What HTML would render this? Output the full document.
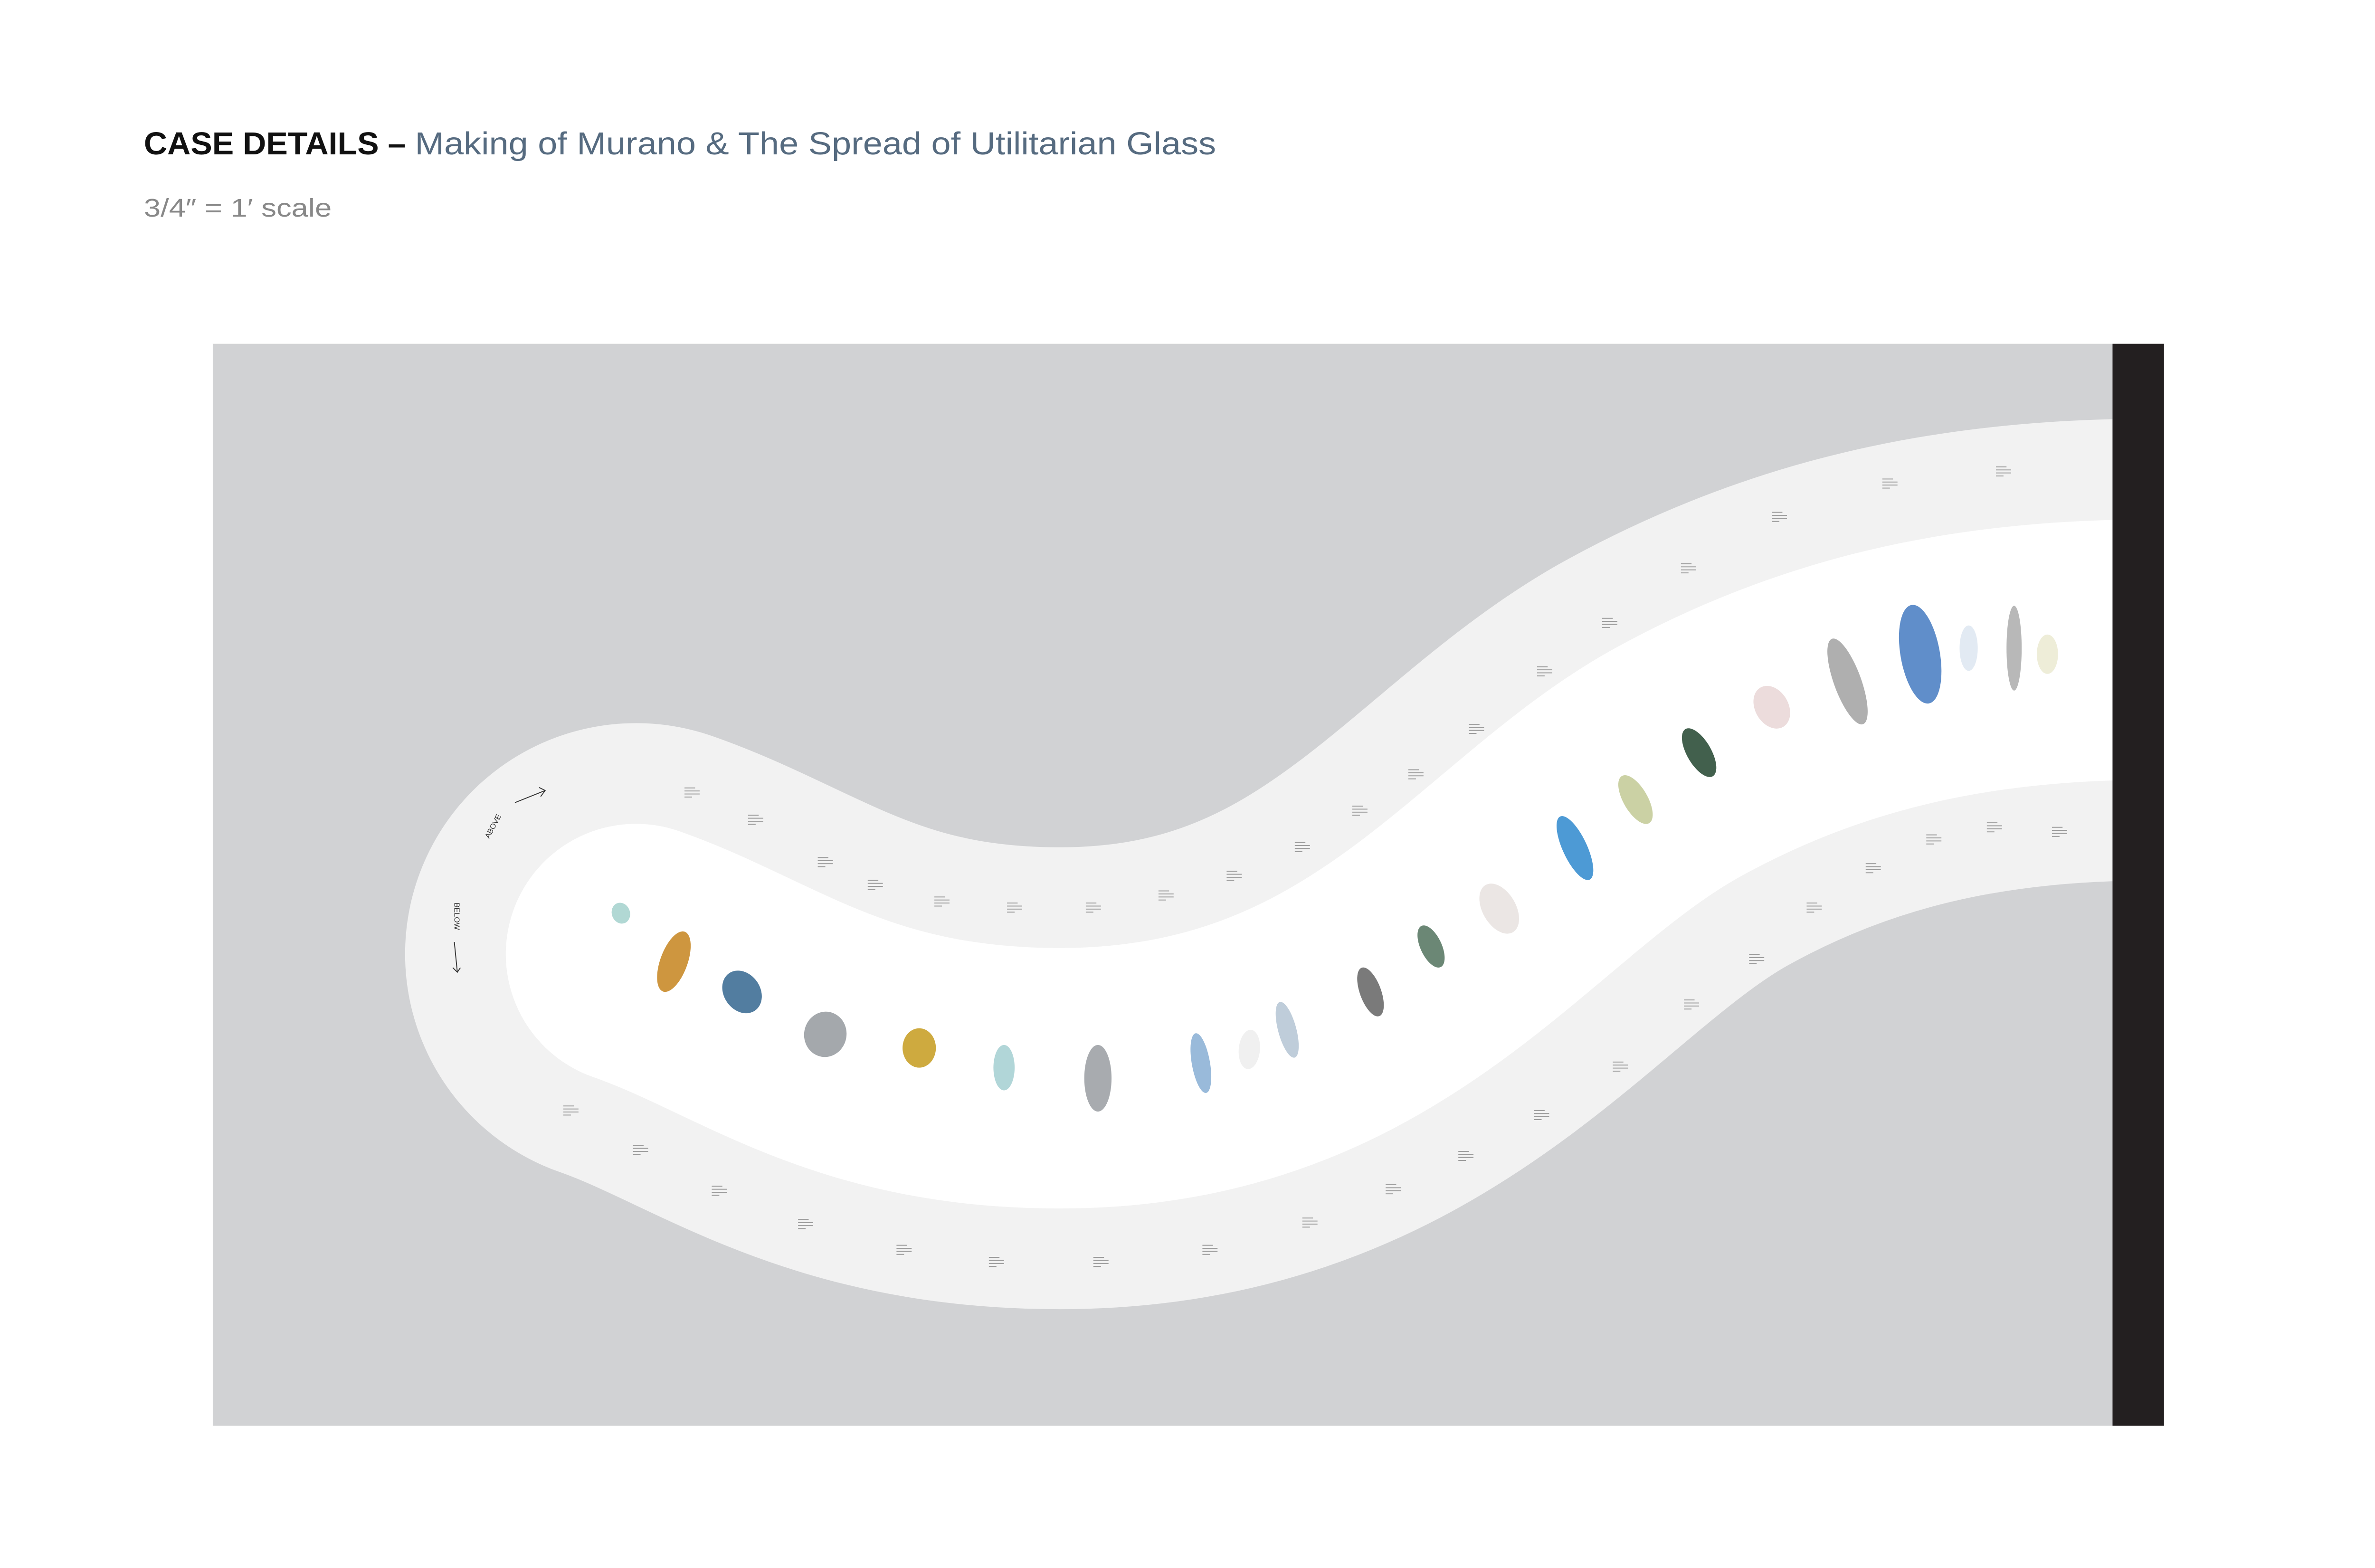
<!DOCTYPE html>
<html><head><meta charset="utf-8"><style>
html,body{margin:0;padding:0;background:#fff}
svg{display:block}
</style></head><body>
<svg id="main" width="5101" height="3301" viewBox="0 0 1600 1035.4" xmlns="http://www.w3.org/2000/svg">
<text x="95" y="102" font-family="Liberation Sans, sans-serif" font-size="21" font-weight="bold" fill="#111" textLength="173" lengthAdjust="spacingAndGlyphs">CASE DETAILS –</text>
<text x="274" y="102" font-family="Liberation Sans, sans-serif" font-size="21" fill="#566b80" textLength="529" lengthAdjust="spacingAndGlyphs">Making of Murano &amp; The Spread of Utilitarian Glass</text>
<text x="95" y="143" font-family="Liberation Sans, sans-serif" font-size="17" fill="#888" textLength="124" lengthAdjust="spacingAndGlyphs">3/4″ = 1′ scale</text>
<defs><clipPath id="cl"><rect x="140.5" y="227" width="1254.5" height="714.5"/></clipPath></defs>
<rect x="140.5" y="227" width="1254.5" height="714.5" fill="#d1d2d4"/>
<g clip-path="url(#cl)">
<path d="M420,630 C500,658 560,712 700,712 C910,712 990,570 1105,505 C1200,452 1300,429 1420,429" fill="none" stroke="#f2f2f2" stroke-width="305" stroke-linecap="round"/>
<path d="M420,630 C500,658 560,712 700,712 C910,712 990,570 1105,505 C1200,452 1300,429 1420,429" fill="none" stroke="#ffffff" stroke-width="172" stroke-linecap="round"/>
</g>
<rect x="1395" y="227" width="34" height="714.5" fill="#231f20"/>
<g font-family="Liberation Sans, sans-serif" font-size="5" fill="#333">
<text transform="translate(323,554) rotate(-62)">ABOVE</text>
<path d="M340,530 L360,522 M356,520 L360,522 L357,526" stroke="#333" stroke-width="0.6" fill="none"/>
<text transform="translate(300,596) rotate(90)">BELOW</text>
<path d="M300,622 L302,642 M299,639 L302,642 L304,639" stroke="#333" stroke-width="0.6" fill="none"/>
</g>
<g id="labels"></g>
<g id="objs"></g>
</svg>
<script>
const objX=[410,445,490,545,607,663,725,793,825,850,905,945,990,1040,1080,1122,1170,1220,1268,1300,1330,1352];
const objY=[603,635,655,683,692,705,712,702,693,680,655,625,600,560,528,497,467,450,432,428,428,432];
const objH=[14,42,30,30,26,30,44,40,26,38,34,30,36,46,36,36,30,60,66,30,56,26];
const objW=[12,18,24,28,22,14,18,12,14,12,14,14,22,16,16,16,22,18,26,12,10,14];
const objC=["#a8d4cf","#c98b2a","#3f6f96","#9a9ea3","#c9a12a","#a8d2d4","#9ea2a6","#8eb2d6","#eeeeee","#b8c8d6","#6c6c6c","#5b7a66","#e9e3e1","#3a8fd0","#c5cc9a","#2e4f3a","#ead8d8","#a6a6a6","#4f82c4","#dfe8f2","#b0b0b0","#ecebd4"];
const objR=[-20,20,-35,10,0,0,0,-10,5,-15,-20,-25,-30,-25,-30,-30,-30,-20,-10,0,0,0];
const lblX=[452,494,540,573,617,665,717,765,810,855,893,930,970,1015,1058,1110,1170,1243,1318,372,418,470,527,592,653,722,794,860,915,963,1013,1065,1112,1155,1193,1232,1272,1312,1355];
const lblY=[520,538,566,581,592,596,596,588,575,556,532,508,478,440,408,372,338,316,308,730,756,783,805,822,830,830,822,804,782,760,733,701,660,630,596,570,551,543,546];
const NS="http://www.w3.org/2000/svg";
const og=document.getElementById('objs');
for(let i=0;i<objX.length;i++){
  const e=document.createElementNS(NS,'ellipse');
  e.setAttribute('cx',objX[i]);e.setAttribute('cy',objY[i]);
  e.setAttribute('rx',objW[i]/2);e.setAttribute('ry',objH[i]/2);
  e.setAttribute('fill',objC[i]);e.setAttribute('opacity','0.9');
  e.setAttribute('transform','rotate('+objR[i]+' '+objX[i]+' '+objY[i]+')');
  
  
  og.appendChild(e);
}
const lg=document.getElementById('labels');
for(let i=0;i<lblX.length;i++){
  for(let k=0;k<4;k++){
    const r=document.createElementNS(NS,'rect');
    r.setAttribute('x',lblX[i]);r.setAttribute('y',lblY[i]+k*2);
    r.setAttribute('width',k==0?7:(k==3?5:10));r.setAttribute('height',0.6);
    r.setAttribute('fill','#999');
    
    
    lg.appendChild(r);
  }
}
</script>
</body></html>
